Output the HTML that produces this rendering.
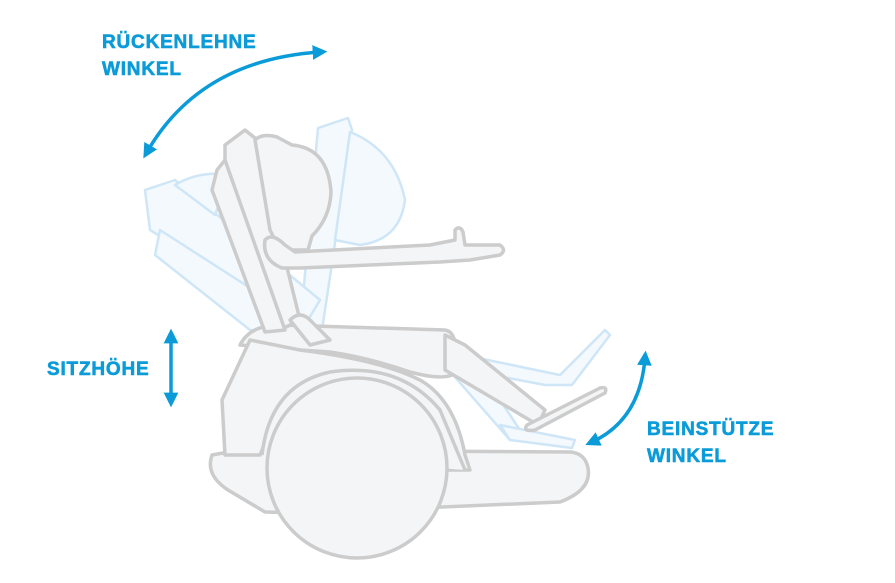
<!DOCTYPE html>
<html><head><meta charset="utf-8"><style>
html,body{margin:0;padding:0;background:#fff;}
svg{display:block;}
text{font-family:"Liberation Sans",sans-serif;font-weight:bold;fill:#0a9bd8;font-size:19px;letter-spacing:0.8px;stroke:#0a9bd8;stroke-width:0.6px;}
</style></head><body>
<svg width="895" height="583" viewBox="0 0 895 583" xmlns="http://www.w3.org/2000/svg">
<defs>
<marker id="ah" viewBox="0 0 10 10" refX="5" refY="5" markerWidth="4.2" markerHeight="4.2" orient="auto-start-reverse">
<path d="M0,0 L10,5 L0,10 z" fill="#0a9bd8"/></marker>
</defs>
<g fill="#f3f9fd" stroke="#cfe6f7" stroke-width="2.5" stroke-linejoin="round">
<path d="M318,128 L348,118 L352,130 L322,330 L300,330 Z"/>
<path d="M350,132 Q395,150 405,200 Q400,240 360,245 L335,240 Z"/>
<path d="M145,190 L175,180 L320,300 L305,325 L150,230 Z"/>
<path d="M160,230 L300,320 L290,335 L250,330 L155,255 Z"/>
<path d="M175,185 Q200,170 230,175 L215,215 Z"/>
<path d="M440,350 L560,375 L605,330 L610,335 L572,385 L545,385 L440,365 Z"/>
<path d="M440,360 L470,355 L520,430 L510,440 Z"/>
<path d="M500,425 L575,440 L572,448 L510,440 Z"/>
</g>
<g fill="#f4f5f6" stroke="#cccccc" stroke-width="3.5" stroke-linejoin="round">
<path d="M212,455 Q205,475 228,490 L265,512 L300,513 L560,502 Q592,490 588,468 Q585,453 570,452 L240,450 Z"/>
<path d="M240,345 Q250,325 280,325 L445,330 Q458,332 455,360 L452,375 Q440,380 410,372 Q370,358 330,352 L300,350 Z"/>
<path d="M250,340 L300,350 Q380,360 420,380 Q455,400 465,455 L470,470 L445,470 L430,420 Q405,390 355,385 Q300,385 275,420 L260,455 L225,455 L222,400 Z"/>
<path d="M262,455 Q270,385 330,372 Q400,362 440,410 L465,470"/>
<path d="M445,335 L465,345 L545,410 L538,425 L445,370 Z"/>
<path d="M527,425 L600,388 Q608,386 605,393 L535,430 Q522,432 527,425 Z"/>
<path d="M225,145 L245,130 L255,138 L300,320 L280,330 L225,160 Z"/>
<path d="M255,140 Q262,133 277,137 L292,145 Q328,148 331,192 Q330,218 312,236 L308,250 L280,250 L270,230 Z"/>
<path d="M217,170 L225,160 L285,330 L265,332 L212,190 Z"/>
<path d="M265,240 Q272,232 285,245 L295,252 L430,245 L440,243 L455,240 L455,230 Q460,225 463,232 L465,245 L500,245 Q507,250 500,255 L470,260 L440,262 L300,268 L282,268 Q262,260 265,240 Z"/>
<path d="M290,320 Q300,310 310,320 L330,340 L310,345 Z"/>
<circle cx="357" cy="468" r="90"/>
</g>
<g fill="none" stroke="#0a9bd8" stroke-width="3.5">
<path d="M147,152 Q200,60 320,52" marker-start="url(#ah)" marker-end="url(#ah)"/>
<path d="M171,336 L171,400" marker-start="url(#ah)" marker-end="url(#ah)"/>
<path d="M645,358 Q640,420 592,442" marker-start="url(#ah)" marker-end="url(#ah)"/>
</g>
<text x="102" y="48">RÜCKENLEHNE</text>
<text x="102" y="75">WINKEL</text>
<text x="47" y="375">SITZHÖHE</text>
<text x="647" y="435">BEINSTÜTZE</text>
<text x="647" y="462">WINKEL</text>
</svg>
</body></html>
